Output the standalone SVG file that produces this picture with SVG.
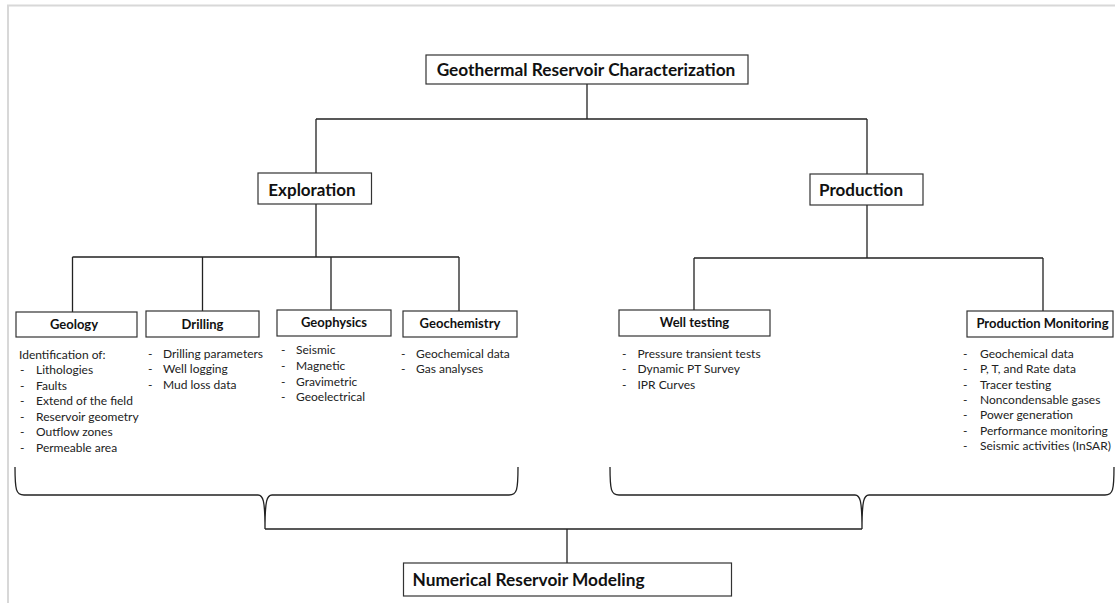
<svg xmlns="http://www.w3.org/2000/svg" width="1115" height="603" viewBox="0 0 1115 603">
<style>
.box{fill:#fff;stroke:#333;stroke-width:1.2}
.t1{font-family:Lato,"Open Sans","Liberation Sans",sans-serif;font-weight:bold;fill:#111;text-anchor:middle}
.t2{font-family:Lato,"Open Sans","Liberation Sans",sans-serif;font-weight:bold;fill:#111;text-anchor:middle;font-size:13px}
.li{font-family:Lato,"Open Sans","Liberation Sans",sans-serif;fill:#222;font-size:12px}
.ln{fill:none;stroke:#222;stroke-width:1.3}
</style>
<rect width="1115" height="603" fill="#fff"/>
<path d="M8,603 V5.5 H1115" fill="none" stroke="#d8d8d8" stroke-width="2"/>

<g id="connectors" class="ln">
<path d="M587,84 V119 M316,119 H867 M316,119 V173 M867,119 V174"/>
<path d="M316,204 V257 M72.5,257 H459 M72.5,257 V312 M202.5,257 V311 M331,257 V310 M459,257 V311"/>
<path d="M867,205 V258 M694,258 H1043 M694,258 V310 M1043,258 V311"/>
<path d="M15,467 C15,490 16,495 24,495 L258,495 C263,495 265,500 265,529 C265,500 267,495 272,495 L509,495 C517,495 518,490 518,467"/>
<path d="M610,467 C610,490 611,495 619,495 L855,495 C860,495 862,500 862,529 C862,500 864,495 869,495 L1105,495 C1113,495 1114,490 1114,467"/>
<path d="M265,529 H862 M567,529 V563"/>
</g>

<g id="n-top">
<rect class="box" x="426" y="55" width="322" height="29"/>
<text class="t1" x="586" y="75.5" font-size="17.3">Geothermal Reservoir Characterization</text>
</g>
<g id="n-exploration">
<rect class="box" x="258" y="173" width="113.5" height="31"/>
<text class="t1" x="312" y="195.5" font-size="17">Exploration</text>
</g>
<g id="n-production">
<rect class="box" x="810" y="174" width="113" height="31"/>
<text class="t1" x="861" y="196" font-size="17">Production</text>
</g>

<g id="n-geology">
<rect class="box" x="16" y="312" width="121" height="25"/>
<text class="t2" x="74" y="329">Geology</text>
<text class="li" x="19" y="358.5">Identification of:</text>
<g class="li">
<text x="20" y="374">-</text><text x="36" y="374">Lithologies</text>
<text x="20" y="389.5">-</text><text x="36" y="389.5">Faults</text>
<text x="20" y="405">-</text><text x="36" y="405">Extend of the field</text>
<text x="20" y="420.5">-</text><text x="36" y="420.5">Reservoir geometry</text>
<text x="20" y="436">-</text><text x="36" y="436">Outflow zones</text>
<text x="20" y="451.5">-</text><text x="36" y="451.5">Permeable area</text>
</g>
</g>

<g id="n-drilling">
<rect class="box" x="146" y="311" width="113" height="26"/>
<text class="t2" x="202.5" y="328.5">Drilling</text>
<g class="li">
<text x="148" y="358">-</text><text x="163" y="358">Drilling parameters</text>
<text x="148" y="373">-</text><text x="163" y="373">Well logging</text>
<text x="148" y="389">-</text><text x="163" y="389">Mud loss data</text>
</g>
</g>

<g id="n-geophysics">
<rect class="box" x="277" y="310" width="114" height="26"/>
<text class="t2" x="334" y="327">Geophysics</text>
<g class="li">
<text x="281" y="354">-</text><text x="296" y="354">Seismic</text>
<text x="281" y="370">-</text><text x="296" y="370">Magnetic</text>
<text x="281" y="385.5">-</text><text x="296" y="385.5">Gravimetric</text>
<text x="281" y="400.5">-</text><text x="296" y="400.5">Geoelectrical</text>
</g>
</g>

<g id="n-geochemistry">
<rect class="box" x="403" y="311" width="114" height="26"/>
<text class="t2" x="460" y="328">Geochemistry</text>
<g class="li">
<text x="401" y="358">-</text><text x="416" y="358">Geochemical data</text>
<text x="401" y="373">-</text><text x="416" y="373">Gas analyses</text>
</g>
</g>

<g id="n-welltesting">
<rect class="box" x="619" y="310" width="151" height="26"/>
<text class="t2" x="694.5" y="327">Well testing</text>
<g class="li">
<text x="622" y="358">-</text><text x="637.5" y="358">Pressure transient tests</text>
<text x="622" y="373">-</text><text x="637.5" y="373">Dynamic PT Survey</text>
<text x="622" y="389">-</text><text x="637.5" y="389">IPR Curves</text>
</g>
</g>

<g id="n-prodmonitoring">
<rect class="box" x="967" y="311" width="146" height="26"/>
<text class="t2" x="1042.5" y="328">Production Monitoring</text>
<g class="li">
<text x="963" y="358">-</text><text x="980" y="358">Geochemical data</text>
<text x="963" y="373">-</text><text x="980" y="373">P, T, and Rate data</text>
<text x="963" y="389">-</text><text x="980" y="389">Tracer testing</text>
<text x="963" y="404">-</text><text x="980" y="404">Noncondensable gases</text>
<text x="963" y="419">-</text><text x="980" y="419">Power generation</text>
<text x="963" y="435">-</text><text x="980" y="435">Performance monitoring</text>
<text x="963" y="450">-</text><text x="980" y="450">Seismic activities (InSAR)</text>
</g>
</g>

<g id="n-numerical">
<rect class="box" x="403.5" y="563" width="328" height="33"/>
<text font-family="Lato,'Open Sans','Liberation Sans',sans-serif" font-weight="bold" fill="#111" font-size="17.3" x="412.5" y="585.5">Numerical Reservoir Modeling</text>
</g>
</svg>
